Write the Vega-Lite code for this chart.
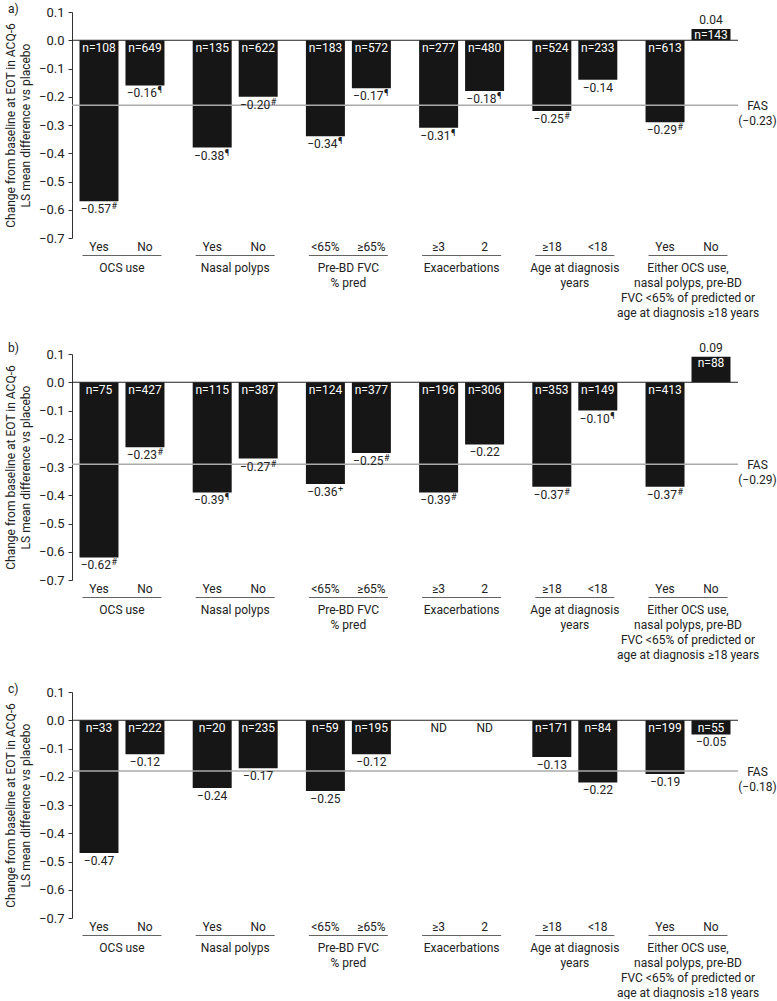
{
  "$schema": "https://vega.github.io/schema/vega-lite/v6.json",
  "padding": {"left": 4, "top": 3, "right": 0, "bottom": 0},
  "config": {
    "view": {"stroke": null},
    "font": "Roboto",
    "text": {"font": "Roboto", "fontSize": 12, "color": "#222"},
    "title": {"fontSize": 12, "fontWeight": "normal", "anchor": "start", "frame": "bounds", "offset": -10, "color": "#222", "font": "Roboto", "dx": 4},
    "concat": {"spacing": 22}
  },
  "datasets": {
    "bars": [
      {"panel": "a", "group": "OCS use", "level": 1, "sub": "Yes", "value": -0.57, "nLabel": "n=108", "sup": "#"},
      {"panel": "a", "group": "OCS use", "level": 2, "sub": "No", "value": -0.16, "nLabel": "n=649", "sup": "¶"},
      {"panel": "a", "group": "Nasal polyps", "level": 1, "sub": "Yes", "value": -0.38, "nLabel": "n=135", "sup": "¶"},
      {"panel": "a", "group": "Nasal polyps", "level": 2, "sub": "No", "value": -0.20, "nLabel": "n=622", "sup": "#"},
      {"panel": "a", "group": "Pre-BD FVC|% pred", "level": 1, "sub": "<65%", "value": -0.34, "nLabel": "n=183", "sup": "¶"},
      {"panel": "a", "group": "Pre-BD FVC|% pred", "level": 2, "sub": "≥65%", "value": -0.17, "nLabel": "n=572", "sup": "¶"},
      {"panel": "a", "group": "Exacerbations", "level": 1, "sub": "≥3", "value": -0.31, "nLabel": "n=277", "sup": "¶"},
      {"panel": "a", "group": "Exacerbations", "level": 2, "sub": "2", "value": -0.18, "nLabel": "n=480", "sup": "¶"},
      {"panel": "a", "group": "Age at diagnosis|years", "level": 1, "sub": "≥18", "value": -0.25, "nLabel": "n=524", "sup": "#"},
      {"panel": "a", "group": "Age at diagnosis|years", "level": 2, "sub": "<18", "value": -0.14, "nLabel": "n=233", "sup": ""},
      {"panel": "a", "group": "Either OCS use,|nasal polyps, pre-BD|FVC <65% of predicted or|age at diagnosis ≥18 years", "level": 1, "sub": "Yes", "value": -0.29, "nLabel": "n=613", "sup": "#"},
      {"panel": "a", "group": "Either OCS use,|nasal polyps, pre-BD|FVC <65% of predicted or|age at diagnosis ≥18 years", "level": 2, "sub": "No", "value": 0.04, "nLabel": "n=143", "sup": ""},

      {"panel": "b", "group": "OCS use", "level": 1, "sub": "Yes", "value": -0.62, "nLabel": "n=75", "sup": "#"},
      {"panel": "b", "group": "OCS use", "level": 2, "sub": "No", "value": -0.23, "nLabel": "n=427", "sup": "#"},
      {"panel": "b", "group": "Nasal polyps", "level": 1, "sub": "Yes", "value": -0.39, "nLabel": "n=115", "sup": "¶"},
      {"panel": "b", "group": "Nasal polyps", "level": 2, "sub": "No", "value": -0.27, "nLabel": "n=387", "sup": "#"},
      {"panel": "b", "group": "Pre-BD FVC|% pred", "level": 1, "sub": "<65%", "value": -0.36, "nLabel": "n=124", "sup": "+"},
      {"panel": "b", "group": "Pre-BD FVC|% pred", "level": 2, "sub": "≥65%", "value": -0.25, "nLabel": "n=377", "sup": "#"},
      {"panel": "b", "group": "Exacerbations", "level": 1, "sub": "≥3", "value": -0.39, "nLabel": "n=196", "sup": "#"},
      {"panel": "b", "group": "Exacerbations", "level": 2, "sub": "2", "value": -0.22, "nLabel": "n=306", "sup": ""},
      {"panel": "b", "group": "Age at diagnosis|years", "level": 1, "sub": "≥18", "value": -0.37, "nLabel": "n=353", "sup": "#"},
      {"panel": "b", "group": "Age at diagnosis|years", "level": 2, "sub": "<18", "value": -0.10, "nLabel": "n=149", "sup": "¶"},
      {"panel": "b", "group": "Either OCS use,|nasal polyps, pre-BD|FVC <65% of predicted or|age at diagnosis ≥18 years", "level": 1, "sub": "Yes", "value": -0.37, "nLabel": "n=413", "sup": "#"},
      {"panel": "b", "group": "Either OCS use,|nasal polyps, pre-BD|FVC <65% of predicted or|age at diagnosis ≥18 years", "level": 2, "sub": "No", "value": 0.09, "nLabel": "n=88", "sup": ""},

      {"panel": "c", "group": "OCS use", "level": 1, "sub": "Yes", "value": -0.47, "nLabel": "n=33", "sup": ""},
      {"panel": "c", "group": "OCS use", "level": 2, "sub": "No", "value": -0.12, "nLabel": "n=222", "sup": ""},
      {"panel": "c", "group": "Nasal polyps", "level": 1, "sub": "Yes", "value": -0.24, "nLabel": "n=20", "sup": ""},
      {"panel": "c", "group": "Nasal polyps", "level": 2, "sub": "No", "value": -0.17, "nLabel": "n=235", "sup": ""},
      {"panel": "c", "group": "Pre-BD FVC|% pred", "level": 1, "sub": "<65%", "value": -0.25, "nLabel": "n=59", "sup": ""},
      {"panel": "c", "group": "Pre-BD FVC|% pred", "level": 2, "sub": "≥65%", "value": -0.12, "nLabel": "n=195", "sup": ""},
      {"panel": "c", "group": "Exacerbations", "level": 1, "sub": "≥3", "value": null, "nLabel": "ND", "sup": ""},
      {"panel": "c", "group": "Exacerbations", "level": 2, "sub": "2", "value": null, "nLabel": "ND", "sup": ""},
      {"panel": "c", "group": "Age at diagnosis|years", "level": 1, "sub": "≥18", "value": -0.13, "nLabel": "n=171", "sup": ""},
      {"panel": "c", "group": "Age at diagnosis|years", "level": 2, "sub": "<18", "value": -0.22, "nLabel": "n=84", "sup": ""},
      {"panel": "c", "group": "Either OCS use,|nasal polyps, pre-BD|FVC <65% of predicted or|age at diagnosis ≥18 years", "level": 1, "sub": "Yes", "value": -0.19, "nLabel": "n=199", "sup": ""},
      {"panel": "c", "group": "Either OCS use,|nasal polyps, pre-BD|FVC <65% of predicted or|age at diagnosis ≥18 years", "level": 2, "sub": "No", "value": -0.05, "nLabel": "n=55", "sup": ""}
    ],
    "fas": [
      {"panel": "a", "fas": -0.23},
      {"panel": "b", "fas": -0.29},
      {"panel": "c", "fas": -0.18}
    ]
  },
  "vconcat": [
    {
      "title": "a)",
      "width": 666,
      "height": 226,
      "layer": [
        {
          "data": {"name": "bars"},
          "transform": [{"filter": "datum.panel == 'a'"}],
          "mark": {"type": "bar", "color": "#161616"},
          "encoding": {
            "x": {"field": "group", "type": "nominal",
              "scale": {"domain": ["OCS use", "Nasal polyps", "Pre-BD FVC|% pred", "Exacerbations", "Age at diagnosis|years", "Either OCS use,|nasal polyps, pre-BD|FVC <65% of predicted or|age at diagnosis ≥18 years"], "paddingInner": 0.117, "paddingOuter": 0},
              "axis": {"title": null, "domain": false, "ticks": false, "tickSize": 0, "labelExpr": "split(datum.label, '|')", "labelPadding": 24, "labelLineHeight": 15.3, "labelFontSize": 12, "labelColor": "#222", "labelAngle": 0, "labelOverlap": false, "labelBaseline": "top", "labelLimit": 300}},
            "xOffset": {"field": "level", "type": "nominal", "scale": {"paddingInner": 0.152, "paddingOuter": 0.163}},
            "y": {"field": "value", "type": "quantitative",
              "scale": {"domain": [-0.7, 0.1], "nice": false, "zero": false},
              "axis": {"title": ["Change from baseline at EOT in ACQ-6", "LS mean difference vs placebo"], "values": [-0.7, -0.6, -0.5, -0.4, -0.3, -0.2, -0.1, 0, 0.1], "format": ".1f", "grid": false, "tickSize": 4, "domainColor": "#333", "tickColor": "#333", "labelFontSize": 13, "labelColor": "#222", "titleFontSize": 12, "titleFontWeight": "normal", "titleColor": "#222", "titlePadding": 6, "labelPadding": 4, "titleLineHeight": 15.5}}
          }
        },
        {
          "data": {"name": "fas"},
          "transform": [{"filter": "datum.panel == 'a'"}],
          "mark": {"type": "rule", "color": "#aaaaaa", "strokeWidth": 1.5},
          "encoding": {
            "y": {"field": "fas", "type": "quantitative", "scale": {"domain": [-0.7, 0.1], "nice": false, "zero": false},
              "axis": {"orient": "right", "title": null, "values": [-0.23], "domain": false, "ticks": false, "tickSize": 0, "grid": false, "labelPadding": 19, "labelAlign": "center", "labelBaseline": "middle", "labelLineHeight": 15, "labelFontSize": 12, "labelColor": "#222", "labelExpr": "['FAS', '(' + format(datum.value, '.2f') + ')']"}}
          }
        },
        {
          "data": {"name": "fas"},
          "transform": [{"filter": "datum.panel == 'a'"}],
          "mark": {"type": "rule", "color": "#222", "strokeWidth": 1},
          "encoding": {"y": {"datum": 0, "axis": null}}
        },
        {
          "data": {"name": "bars"},
          "transform": [{"filter": "datum.panel == 'a' && datum.value != null && datum.value < 0"}],
          "mark": {"type": "text", "color": "white", "baseline": "top", "dy": 3},
          "encoding": {"x": {"field": "group"}, "xOffset": {"field": "level"}, "y": {"datum": 0, "axis": null}, "text": {"field": "nLabel"}}
        },
        {
          "data": {"name": "bars"},
          "transform": [{"filter": "datum.panel == 'a' && datum.value != null && datum.value > 0"}],
          "mark": {"type": "text", "color": "white", "baseline": "top", "dy": 1},
          "encoding": {"x": {"field": "group"}, "xOffset": {"field": "level"}, "y": {"field": "value", "type": "quantitative", "axis": null}, "text": {"field": "nLabel"}}
        },
        {
          "data": {"name": "bars"},
          "transform": [{"filter": "datum.panel == 'a' && datum.value != null && datum.value < 0 && datum.sup == ''"}],
          "mark": {"type": "text", "baseline": "top", "dy": 3},
          "encoding": {"x": {"field": "group"}, "xOffset": {"field": "level"}, "y": {"field": "value", "type": "quantitative", "axis": null}, "text": {"field": "value", "type": "quantitative", "format": ".2f"}}
        },
        {
          "data": {"name": "bars"},
          "transform": [{"filter": "datum.panel == 'a' && datum.value != null && datum.value < 0 && datum.sup != ''"}],
          "mark": {"type": "text", "baseline": "top", "dy": 3, "align": "right", "dx": 12},
          "encoding": {"x": {"field": "group"}, "xOffset": {"field": "level"}, "y": {"field": "value", "type": "quantitative", "axis": null}, "text": {"field": "value", "type": "quantitative", "format": ".2f"}}
        },
        {
          "data": {"name": "bars"},
          "transform": [{"filter": "datum.panel == 'a' && datum.value != null && datum.value < 0 && datum.sup != ''"}],
          "mark": {"type": "text", "baseline": "top", "dy": 1, "align": "left", "dx": 12.5, "fontSize": 9},
          "encoding": {"x": {"field": "group"}, "xOffset": {"field": "level"}, "y": {"field": "value", "type": "quantitative", "axis": null}, "text": {"field": "sup"}}
        },
        {
          "data": {"name": "bars"},
          "transform": [{"filter": "datum.panel == 'a' && datum.value != null && datum.value > 0"}],
          "mark": {"type": "text", "baseline": "bottom", "dy": -2},
          "encoding": {"x": {"field": "group"}, "xOffset": {"field": "level"}, "y": {"field": "value", "type": "quantitative", "axis": null}, "text": {"field": "value", "type": "quantitative", "format": ".2f"}}
        },
        {
          "data": {"name": "bars"},
          "transform": [{"filter": "datum.panel == 'a'"}],
          "mark": {"type": "text", "baseline": "top", "dy": 4},
          "encoding": {"x": {"field": "group"}, "xOffset": {"field": "level"}, "y": {"datum": -0.7, "axis": null}, "text": {"field": "sub"}}
        },
        {
          "data": {"name": "bars"},
          "transform": [{"filter": "datum.panel == 'a' && datum.level == 1"}],
          "mark": {"type": "tick", "color": "#222", "thickness": 1, "size": 79, "yOffset": 17.5, "orient": "horizontal"},
          "encoding": {"x": {"field": "group"}, "y": {"datum": -0.7, "axis": null}}
        }
      ],
      "resolve": {"axis": {"y": "independent"}}
    },
    {
      "title": {"text": "b)", "offset": -13},
      "width": 666,
      "height": 226,
      "layer": [
        {
          "data": {"name": "bars"},
          "transform": [{"filter": "datum.panel == 'b'"}],
          "mark": {"type": "bar", "color": "#161616"},
          "encoding": {
            "x": {"field": "group", "type": "nominal",
              "scale": {"domain": ["OCS use", "Nasal polyps", "Pre-BD FVC|% pred", "Exacerbations", "Age at diagnosis|years", "Either OCS use,|nasal polyps, pre-BD|FVC <65% of predicted or|age at diagnosis ≥18 years"], "paddingInner": 0.117, "paddingOuter": 0},
              "axis": {"title": null, "domain": false, "ticks": false, "tickSize": 0, "labelExpr": "split(datum.label, '|')", "labelPadding": 24, "labelLineHeight": 15.3, "labelFontSize": 12, "labelColor": "#222", "labelAngle": 0, "labelOverlap": false, "labelBaseline": "top", "labelLimit": 300}},
            "xOffset": {"field": "level", "type": "nominal", "scale": {"paddingInner": 0.152, "paddingOuter": 0.163}},
            "y": {"field": "value", "type": "quantitative",
              "scale": {"domain": [-0.7, 0.1], "nice": false, "zero": false},
              "axis": {"title": ["Change from baseline at EOT in ACQ-6", "LS mean difference vs placebo"], "values": [-0.7, -0.6, -0.5, -0.4, -0.3, -0.2, -0.1, 0, 0.1], "format": ".1f", "grid": false, "tickSize": 4, "domainColor": "#333", "tickColor": "#333", "labelFontSize": 13, "labelColor": "#222", "titleFontSize": 12, "titleFontWeight": "normal", "titleColor": "#222", "titlePadding": 6, "labelPadding": 4, "titleLineHeight": 15.5}}
          }
        },
        {
          "data": {"name": "fas"},
          "transform": [{"filter": "datum.panel == 'b'"}],
          "mark": {"type": "rule", "color": "#aaaaaa", "strokeWidth": 1.5},
          "encoding": {
            "y": {"field": "fas", "type": "quantitative", "scale": {"domain": [-0.7, 0.1], "nice": false, "zero": false},
              "axis": {"orient": "right", "title": null, "values": [-0.29], "domain": false, "ticks": false, "tickSize": 0, "grid": false, "labelPadding": 19, "labelAlign": "center", "labelBaseline": "middle", "labelLineHeight": 15, "labelFontSize": 12, "labelColor": "#222", "labelExpr": "['FAS', '(' + format(datum.value, '.2f') + ')']"}}
          }
        },
        {
          "data": {"name": "fas"},
          "transform": [{"filter": "datum.panel == 'b'"}],
          "mark": {"type": "rule", "color": "#222", "strokeWidth": 1},
          "encoding": {"y": {"datum": 0, "axis": null}}
        },
        {
          "data": {"name": "bars"},
          "transform": [{"filter": "datum.panel == 'b' && datum.value != null && datum.value < 0"}],
          "mark": {"type": "text", "color": "white", "baseline": "top", "dy": 3},
          "encoding": {"x": {"field": "group"}, "xOffset": {"field": "level"}, "y": {"datum": 0, "axis": null}, "text": {"field": "nLabel"}}
        },
        {
          "data": {"name": "bars"},
          "transform": [{"filter": "datum.panel == 'b' && datum.value != null && datum.value > 0"}],
          "mark": {"type": "text", "color": "white", "baseline": "top", "dy": 1},
          "encoding": {"x": {"field": "group"}, "xOffset": {"field": "level"}, "y": {"field": "value", "type": "quantitative", "axis": null}, "text": {"field": "nLabel"}}
        },
        {
          "data": {"name": "bars"},
          "transform": [{"filter": "datum.panel == 'b' && datum.value != null && datum.value < 0 && datum.sup == ''"}],
          "mark": {"type": "text", "baseline": "top", "dy": 3},
          "encoding": {"x": {"field": "group"}, "xOffset": {"field": "level"}, "y": {"field": "value", "type": "quantitative", "axis": null}, "text": {"field": "value", "type": "quantitative", "format": ".2f"}}
        },
        {
          "data": {"name": "bars"},
          "transform": [{"filter": "datum.panel == 'b' && datum.value != null && datum.value < 0 && datum.sup != ''"}],
          "mark": {"type": "text", "baseline": "top", "dy": 3, "align": "right", "dx": 12},
          "encoding": {"x": {"field": "group"}, "xOffset": {"field": "level"}, "y": {"field": "value", "type": "quantitative", "axis": null}, "text": {"field": "value", "type": "quantitative", "format": ".2f"}}
        },
        {
          "data": {"name": "bars"},
          "transform": [{"filter": "datum.panel == 'b' && datum.value != null && datum.value < 0 && datum.sup != ''"}],
          "mark": {"type": "text", "baseline": "top", "dy": 1, "align": "left", "dx": 12.5, "fontSize": 9},
          "encoding": {"x": {"field": "group"}, "xOffset": {"field": "level"}, "y": {"field": "value", "type": "quantitative", "axis": null}, "text": {"field": "sup"}}
        },
        {
          "data": {"name": "bars"},
          "transform": [{"filter": "datum.panel == 'b' && datum.value != null && datum.value > 0"}],
          "mark": {"type": "text", "baseline": "bottom", "dy": -2},
          "encoding": {"x": {"field": "group"}, "xOffset": {"field": "level"}, "y": {"field": "value", "type": "quantitative", "axis": null}, "text": {"field": "value", "type": "quantitative", "format": ".2f"}}
        },
        {
          "data": {"name": "bars"},
          "transform": [{"filter": "datum.panel == 'b'"}],
          "mark": {"type": "text", "baseline": "top", "dy": 4},
          "encoding": {"x": {"field": "group"}, "xOffset": {"field": "level"}, "y": {"datum": -0.7, "axis": null}, "text": {"field": "sub"}}
        },
        {
          "data": {"name": "bars"},
          "transform": [{"filter": "datum.panel == 'b' && datum.level == 1"}],
          "mark": {"type": "tick", "color": "#222", "thickness": 1, "size": 79, "yOffset": 17.5, "orient": "horizontal"},
          "encoding": {"x": {"field": "group"}, "y": {"datum": -0.7, "axis": null}}
        }
      ],
      "resolve": {"axis": {"y": "independent"}}
    },
    {
      "title": "c)",
      "width": 666,
      "height": 226,
      "layer": [
        {
          "data": {"name": "bars"},
          "transform": [{"filter": "datum.panel == 'c'"}],
          "mark": {"type": "bar", "color": "#161616"},
          "encoding": {
            "x": {"field": "group", "type": "nominal",
              "scale": {"domain": ["OCS use", "Nasal polyps", "Pre-BD FVC|% pred", "Exacerbations", "Age at diagnosis|years", "Either OCS use,|nasal polyps, pre-BD|FVC <65% of predicted or|age at diagnosis ≥18 years"], "paddingInner": 0.117, "paddingOuter": 0},
              "axis": {"title": null, "domain": false, "ticks": false, "tickSize": 0, "labelExpr": "split(datum.label, '|')", "labelPadding": 24, "labelLineHeight": 15.3, "labelFontSize": 12, "labelColor": "#222", "labelAngle": 0, "labelOverlap": false, "labelBaseline": "top", "labelLimit": 300}},
            "xOffset": {"field": "level", "type": "nominal", "scale": {"paddingInner": 0.152, "paddingOuter": 0.163}},
            "y": {"field": "value", "type": "quantitative",
              "scale": {"domain": [-0.7, 0.1], "nice": false, "zero": false},
              "axis": {"title": ["Change from baseline at EOT in ACQ-6", "LS mean difference vs placebo"], "values": [-0.7, -0.6, -0.5, -0.4, -0.3, -0.2, -0.1, 0, 0.1], "format": ".1f", "grid": false, "tickSize": 4, "domainColor": "#333", "tickColor": "#333", "labelFontSize": 13, "labelColor": "#222", "titleFontSize": 12, "titleFontWeight": "normal", "titleColor": "#222", "titlePadding": 6, "labelPadding": 4, "titleLineHeight": 15.5}}
          }
        },
        {
          "data": {"name": "fas"},
          "transform": [{"filter": "datum.panel == 'c'"}],
          "mark": {"type": "rule", "color": "#aaaaaa", "strokeWidth": 1.5},
          "encoding": {
            "y": {"field": "fas", "type": "quantitative", "scale": {"domain": [-0.7, 0.1], "nice": false, "zero": false},
              "axis": {"orient": "right", "title": null, "values": [-0.18], "domain": false, "ticks": false, "tickSize": 0, "grid": false, "labelPadding": 19, "labelAlign": "center", "labelBaseline": "middle", "labelLineHeight": 15, "labelFontSize": 12, "labelColor": "#222", "labelExpr": "['FAS', '(' + format(datum.value, '.2f') + ')']"}}
          }
        },
        {
          "data": {"name": "fas"},
          "transform": [{"filter": "datum.panel == 'c'"}],
          "mark": {"type": "rule", "color": "#222", "strokeWidth": 1},
          "encoding": {"y": {"datum": 0, "axis": null}}
        },
        {
          "data": {"name": "bars"},
          "transform": [{"filter": "datum.panel == 'c' && datum.value != null && datum.value < 0"}],
          "mark": {"type": "text", "color": "white", "baseline": "top", "dy": 3},
          "encoding": {"x": {"field": "group"}, "xOffset": {"field": "level"}, "y": {"datum": 0, "axis": null}, "text": {"field": "nLabel"}}
        },
        {
          "data": {"name": "bars"},
          "transform": [{"filter": "datum.panel == 'c' && datum.value == null"}],
          "mark": {"type": "text", "baseline": "top", "dy": 3},
          "encoding": {"x": {"field": "group"}, "xOffset": {"field": "level"}, "y": {"datum": 0, "axis": null}, "text": {"field": "nLabel"}}
        },
        {
          "data": {"name": "bars"},
          "transform": [{"filter": "datum.panel == 'c' && datum.value != null && datum.value < 0"}],
          "mark": {"type": "text", "baseline": "top", "dy": 3},
          "encoding": {"x": {"field": "group"}, "xOffset": {"field": "level"}, "y": {"field": "value", "type": "quantitative", "axis": null}, "text": {"field": "value", "type": "quantitative", "format": ".2f"}}
        },
        {
          "data": {"name": "bars"},
          "transform": [{"filter": "datum.panel == 'c'"}],
          "mark": {"type": "text", "baseline": "top", "dy": 4},
          "encoding": {"x": {"field": "group"}, "xOffset": {"field": "level"}, "y": {"datum": -0.7, "axis": null}, "text": {"field": "sub"}}
        },
        {
          "data": {"name": "bars"},
          "transform": [{"filter": "datum.panel == 'c' && datum.level == 1"}],
          "mark": {"type": "tick", "color": "#222", "thickness": 1, "size": 79, "yOffset": 17.5, "orient": "horizontal"},
          "encoding": {"x": {"field": "group"}, "y": {"datum": -0.7, "axis": null}}
        }
      ],
      "resolve": {"axis": {"y": "independent"}}
    }
  ]
}
